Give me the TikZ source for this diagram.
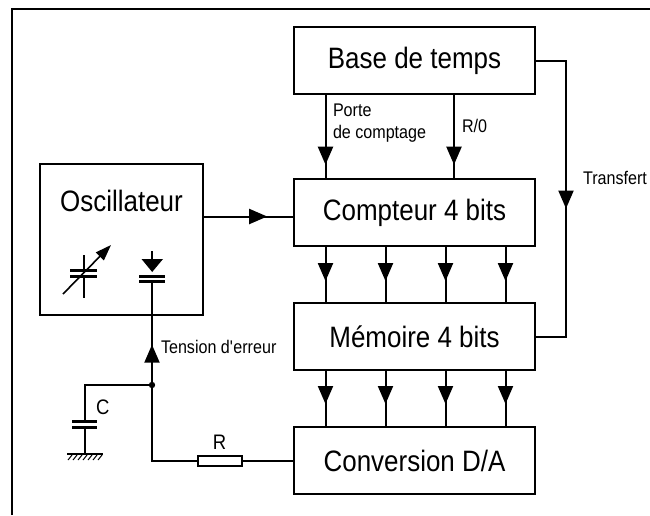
\documentclass[tikz,border=0pt]{standalone}
\usepackage{fontspec}
\setmainfont{Liberation Sans}[FakeStretch=0.88]
\usetikzlibrary{arrows.meta, positioning, decorations.markings}

\begin{document}
\begin{tikzpicture}[x=1pt, y=-1pt, line width=2pt, font=\fontsize{18.3}{22}\selectfont]
  \tikzset{
    bloc/.style={rectangle, draw=black, minimum width=241pt, minimum height=67pt, inner sep=0pt, font=\fontsize{29.5}{32}\selectfont},
    blank/.style={inner sep=0pt, align=left},
    grand/.style={inner sep=0pt, font=\fontsize{21}{24}\selectfont},
    plaque/.style={line width=3pt},
    fleche/.style={postaction={decorate}, decoration={markings, mark=at position #1 with {\arrow{Triangle[length=18pt, width=15pt]}}}}
  }

  \useasboundingbox (0,0) rectangle (650,515);
  \draw[line width=2.2pt] (12,515) -- (12,9) -- (650,9);

  \node[bloc] (base) at (414.5,60.5) {Base de temps};
  \node[bloc] (cpt) [below=83pt of base] {Compteur 4 bits};
  \node[bloc] (mem) [below=55pt of cpt] {Mémoire 4 bits};
  \node[bloc] (conv) [below=55pt of mem] {Conversion D/A};

  \node[rectangle, draw=black, minimum width=163pt, minimum height=151pt] (osc) at (121.5,239.5) {};
  \node[inner sep=0pt, font=\fontsize{29.5}{32}\selectfont] (osctxt) [below=26pt of osc.north] {Oscillateur};

  \node[blank, anchor=west] (porte) at (332,123) {Porte\\de comptage};
  \node[blank, anchor=west] (raz) at (461,126) {R/0};
  \node[blank, anchor=west] (transfert) at (582,178) {Transfert};
  \node[blank, anchor=west] (erreur) at (160,347) {Tension d\textquotesingle erreur};

  \draw[fleche=0.84] ([xshift=-89pt]base.south) -- ([xshift=-89pt]cpt.north);
  \draw[fleche=0.84] ([xshift=39.5pt]base.south) -- ([xshift=39.5pt]cpt.north);
  \draw[fleche=0.53] (base.east) -- ++(30,0) |- (mem.east);

  \foreach \dx in {-89,-29,31,91} {
    \draw[fleche=0.62] ([xshift=\dx pt]cpt.south) -- ([xshift=\dx pt]mem.north);
    \draw[fleche=0.60] ([xshift=\dx pt]mem.south) -- ([xshift=\dx pt]conv.north);
  }

  \coordinate (entree) at ([yshift=-4pt]cpt.west);
  \draw[fleche=0.71] (osc.east |- entree) -- (entree);

  % condensateur variable
  \draw[plaque] (70,270.5) -- (97,270.5) (70,276.5) -- (97,276.5);
  \draw (83.5,255) -- (83.5,270.5) (83.5,276.5) -- (83.5,298);
  \draw[line width=1.6pt, -{Triangle[length=16pt, width=11pt]}] (63,294) -- (111,245);

  % varicap
  \coordinate (vcap) at (152,281.5);
  \draw (152,251) -- (152,259);
  \fill (141.5,259) -- (163,259) -- (152.2,272) -- cycle;
  \draw[plaque] (139,276.5) -- (165,276.5) (139,281.5) -- (165,281.5);

  \coordinate (j) at (152,385);
  \fill (j) circle (3.2pt);
  \draw[fleche=0.39] (j) -- (vcap);

  % filtre RC
  \coordinate (c) at (85,421);
  \draw (j) -| (c);
  \draw[plaque] (72,421) -- (97,421) (72,427) -- (97,427);
  \draw (85,427) -- (85,454);
  \draw (67,454) -- (103,454);
  \foreach \i in {0,...,6}
    \draw[line width=1pt] (68+5*\i,460) -- (72+5*\i,455);
  \node[grand, anchor=west] (clab) at (95,407) {C};

  \node[rectangle, draw=black, fill=white, minimum width=44pt, minimum height=10pt, inner sep=0pt] (r) at (219.5,461) {};
  \node[grand] (rlab) [above=5pt of r] {R};
  \draw (j) |- (r.west);
  \draw (r.east) -- (r.east -| conv.west);

\end{tikzpicture}
\end{document}
